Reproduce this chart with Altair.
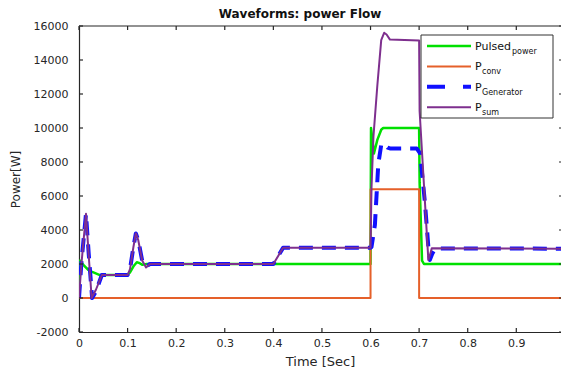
import altair as alt
import pandas as pd

# ---------------- data ----------------
t_pulsed = [0, 0.002, 0.009, 0.019, 0.026, 0.043, 0.098, 0.105, 0.113, 0.119, 0.125, 0.13, 0.14,
            0.60, 0.601, 0.607, 0.614, 0.622, 0.626, 0.70, 0.701, 0.706, 0.71, 0.992]
v_pulsed = [0, 2200, 1950, 1650, 1550, 1350, 1350, 1500, 1900, 2100, 2050, 1950, 2000,
            2000, 10000, 8500, 9300, 9900, 10000, 10000, 6800, 2200, 2000, 2000]

t_conv = [0, 0.6, 0.6, 0.70, 0.70, 0.992]
v_conv = [0, 0, 6400, 6400, 0, 0]

t_gen = [0, 0.005, 0.0144, 0.02, 0.027, 0.035, 0.047, 0.10, 0.105, 0.112, 0.117, 0.122, 0.13, 0.138, 0.146,
         0.40, 0.42, 0.60, 0.602, 0.609, 0.616, 0.622, 0.627, 0.635, 0.64, 0.695, 0.702, 0.712, 0.719, 0.722,
         0.727, 0.733, 0.992]
v_gen = [0, 2100, 4950, 2600, 0, 400, 1350, 1350, 1700, 3000, 3800, 3400, 2200, 1850, 2000,
         2000, 2950, 2950, 3000, 4300, 7900, 9000, 9100, 8850, 8800, 8800, 8500, 5600, 3000, 2240,
         2600, 2920, 2900]

t_sum = [0, 0.005, 0.0144, 0.02, 0.026, 0.035, 0.047, 0.10, 0.105, 0.112, 0.117, 0.122, 0.13, 0.138, 0.146,
         0.40, 0.42, 0.60, 0.602, 0.606, 0.614, 0.622, 0.628, 0.633, 0.64, 0.70, 0.701, 0.719, 0.722,
         0.726, 0.992]
v_sum = [0, 2000, 4950, 2500, 0, 500, 1350, 1350, 1700, 3000, 3800, 3400, 2200, 1800, 2000,
         2000, 2950, 2950, 6500, 9500, 12500, 15170, 15600, 15500, 15200, 15150, 11000, 2240, 2500,
         2920, 2900]

x_ticks = [0, 0.1, 0.2, 0.3, 0.4, 0.5, 0.6, 0.7, 0.8, 0.9]
y_ticks = [-2000, 0, 2000, 4000, 6000, 8000, 10000, 12000, 14000, 16000]

legend_main = ["Pulsed", "P", "P", "P"]
legend_sub = ["power", "conv", "Generator", "sum"]

# ---------------- layout ----------------
W, H = 482, 306
FONT = "DejaVu Sans"
AX = "#262626"

series = [
    (t_pulsed, v_pulsed, "#00e000", 2.5, None),
    (t_conv, v_conv, "#e5602a", 2.0, None),
    (t_gen, v_gen, "#1010ff", 4.0, [14, 9]),
    (t_sum, v_sum, "#7e2f8e", 2.0, None),
]

xs = alt.Scale(domain=[0, 0.992], nice=False, zero=False)
ys = alt.Scale(domain=[-2000, 16000], nice=False, zero=False)

x_axis = alt.Axis(
    values=x_ticks, tickSize=0, grid=False, domainColor=AX, domainWidth=1.2,
    labelFont=FONT, labelFontSize=11, labelColor=AX, labelPadding=5, labelFlush=False,
    labelExpr="datum.value == 0 ? '0' : format(datum.value, '.1f')",
    title="Time [Sec]", titleFont=FONT, titleFontSize=13, titleFontWeight="normal",
    titleColor=AX, titlePadding=7)
y_axis = alt.Axis(
    values=y_ticks, tickSize=0, grid=False, domainColor=AX, domainWidth=1.2,
    labelFont=FONT, labelFontSize=11, labelColor=AX, labelPadding=11, labelFlush=False,
    labelExpr="'' + datum.value",
    title="Power[W]", titleFont=FONT, titleFontSize=12, titleFontWeight="normal",
    titleColor=AX, titlePadding=11)

X = lambda: alt.X("t:Q", scale=xs, axis=x_axis)
Y = lambda: alt.Y("v:Q", scale=ys, axis=y_axis)

layers = []
for k, (tt, vv, col, sw, dash) in enumerate(series):
    df = pd.DataFrame({"t": tt, "v": vv, "i": list(range(len(tt)))})
    mk = dict(color=col, strokeWidth=sw, strokeJoin="round", clip=True)
    if dash:
        mk["strokeDash"] = dash
    layers.append(alt.Chart(df).mark_line(**mk).encode(x=X(), y=Y(), order="i:Q"))

# inward ticks and top border
xt = pd.DataFrame({"t": x_ticks})
yt = pd.DataFrame({"v": y_ticks})
tick_style = dict(color=AX, strokeWidth=1.2)
layers.append(alt.Chart(xt).mark_rule(**tick_style).encode(
    x=X(), y=alt.value(H), y2=alt.value(H - 4)))
layers.append(alt.Chart(xt).mark_rule(**tick_style).encode(
    x=X(), y=alt.value(0), y2=alt.value(4)))
layers.append(alt.Chart(yt).mark_rule(**tick_style).encode(
    y=Y(), x=alt.value(0), x2=alt.value(4)))
layers.append(alt.Chart(yt).mark_rule(**tick_style).encode(
    y=Y(), x=alt.value(W - 2), x2=alt.value(W + 4)))
one = pd.DataFrame({"a": [0]})
layers.append(alt.Chart(one).mark_rule(**tick_style).encode(
    x=alt.value(0), x2=alt.value(W + 4), y=alt.value(0)))

# title
layers.append(alt.Chart(one).mark_text(
    text="Waveforms: power Flow", font=FONT, fontSize=12, fontWeight="bold",
    color="#111111", align="center", baseline="alphabetic").encode(
    x=alt.value(221), y=alt.value(-8)))

# legend box
BX0, BX1, BY0, BY1 = 342, 474, 9, 92
layers.append(alt.Chart(one).mark_rect(fill="white", stroke="#333333", strokeWidth=1).encode(
    x=alt.value(BX0), x2=alt.value(BX1), y=alt.value(BY0), y2=alt.value(BY1)))
sub_x = [433, 403, 403, 403]
for k in range(4):
    ly = 20 + k * 20.4
    _, _, col, sw, dash = series[k]
    lk = dict(color=col, strokeWidth=min(sw, 3.0) if dash is None else 4.0)
    if dash:
        lk["strokeDash"] = [18, 18]
    layers.append(alt.Chart(one).mark_rule(**lk).encode(
        x=alt.value(348), x2=alt.value(392), y=alt.value(ly)))
    layers.append(alt.Chart(one).mark_text(
        text=legend_main[k], font=FONT, fontSize=11, color="#111111",
        align="left", baseline="alphabetic").encode(x=alt.value(396), y=alt.value(ly + 4)))
    layers.append(alt.Chart(one).mark_text(
        text=legend_sub[k], font=FONT, fontSize=8, color="#111111",
        align="left", baseline="alphabetic").encode(x=alt.value(sub_x[k]), y=alt.value(ly + 8)))

chart = alt.layer(*layers).properties(
    width=W, height=H,
    padding={"left": 79, "top": 26, "right": 0, "bottom": 40},
    autosize=alt.AutoSizeParams(type="none"),
    background="white",
).configure_view(stroke=None)

chart.save("out.html", embed_options={"renderer": "svg", "actions": False})
